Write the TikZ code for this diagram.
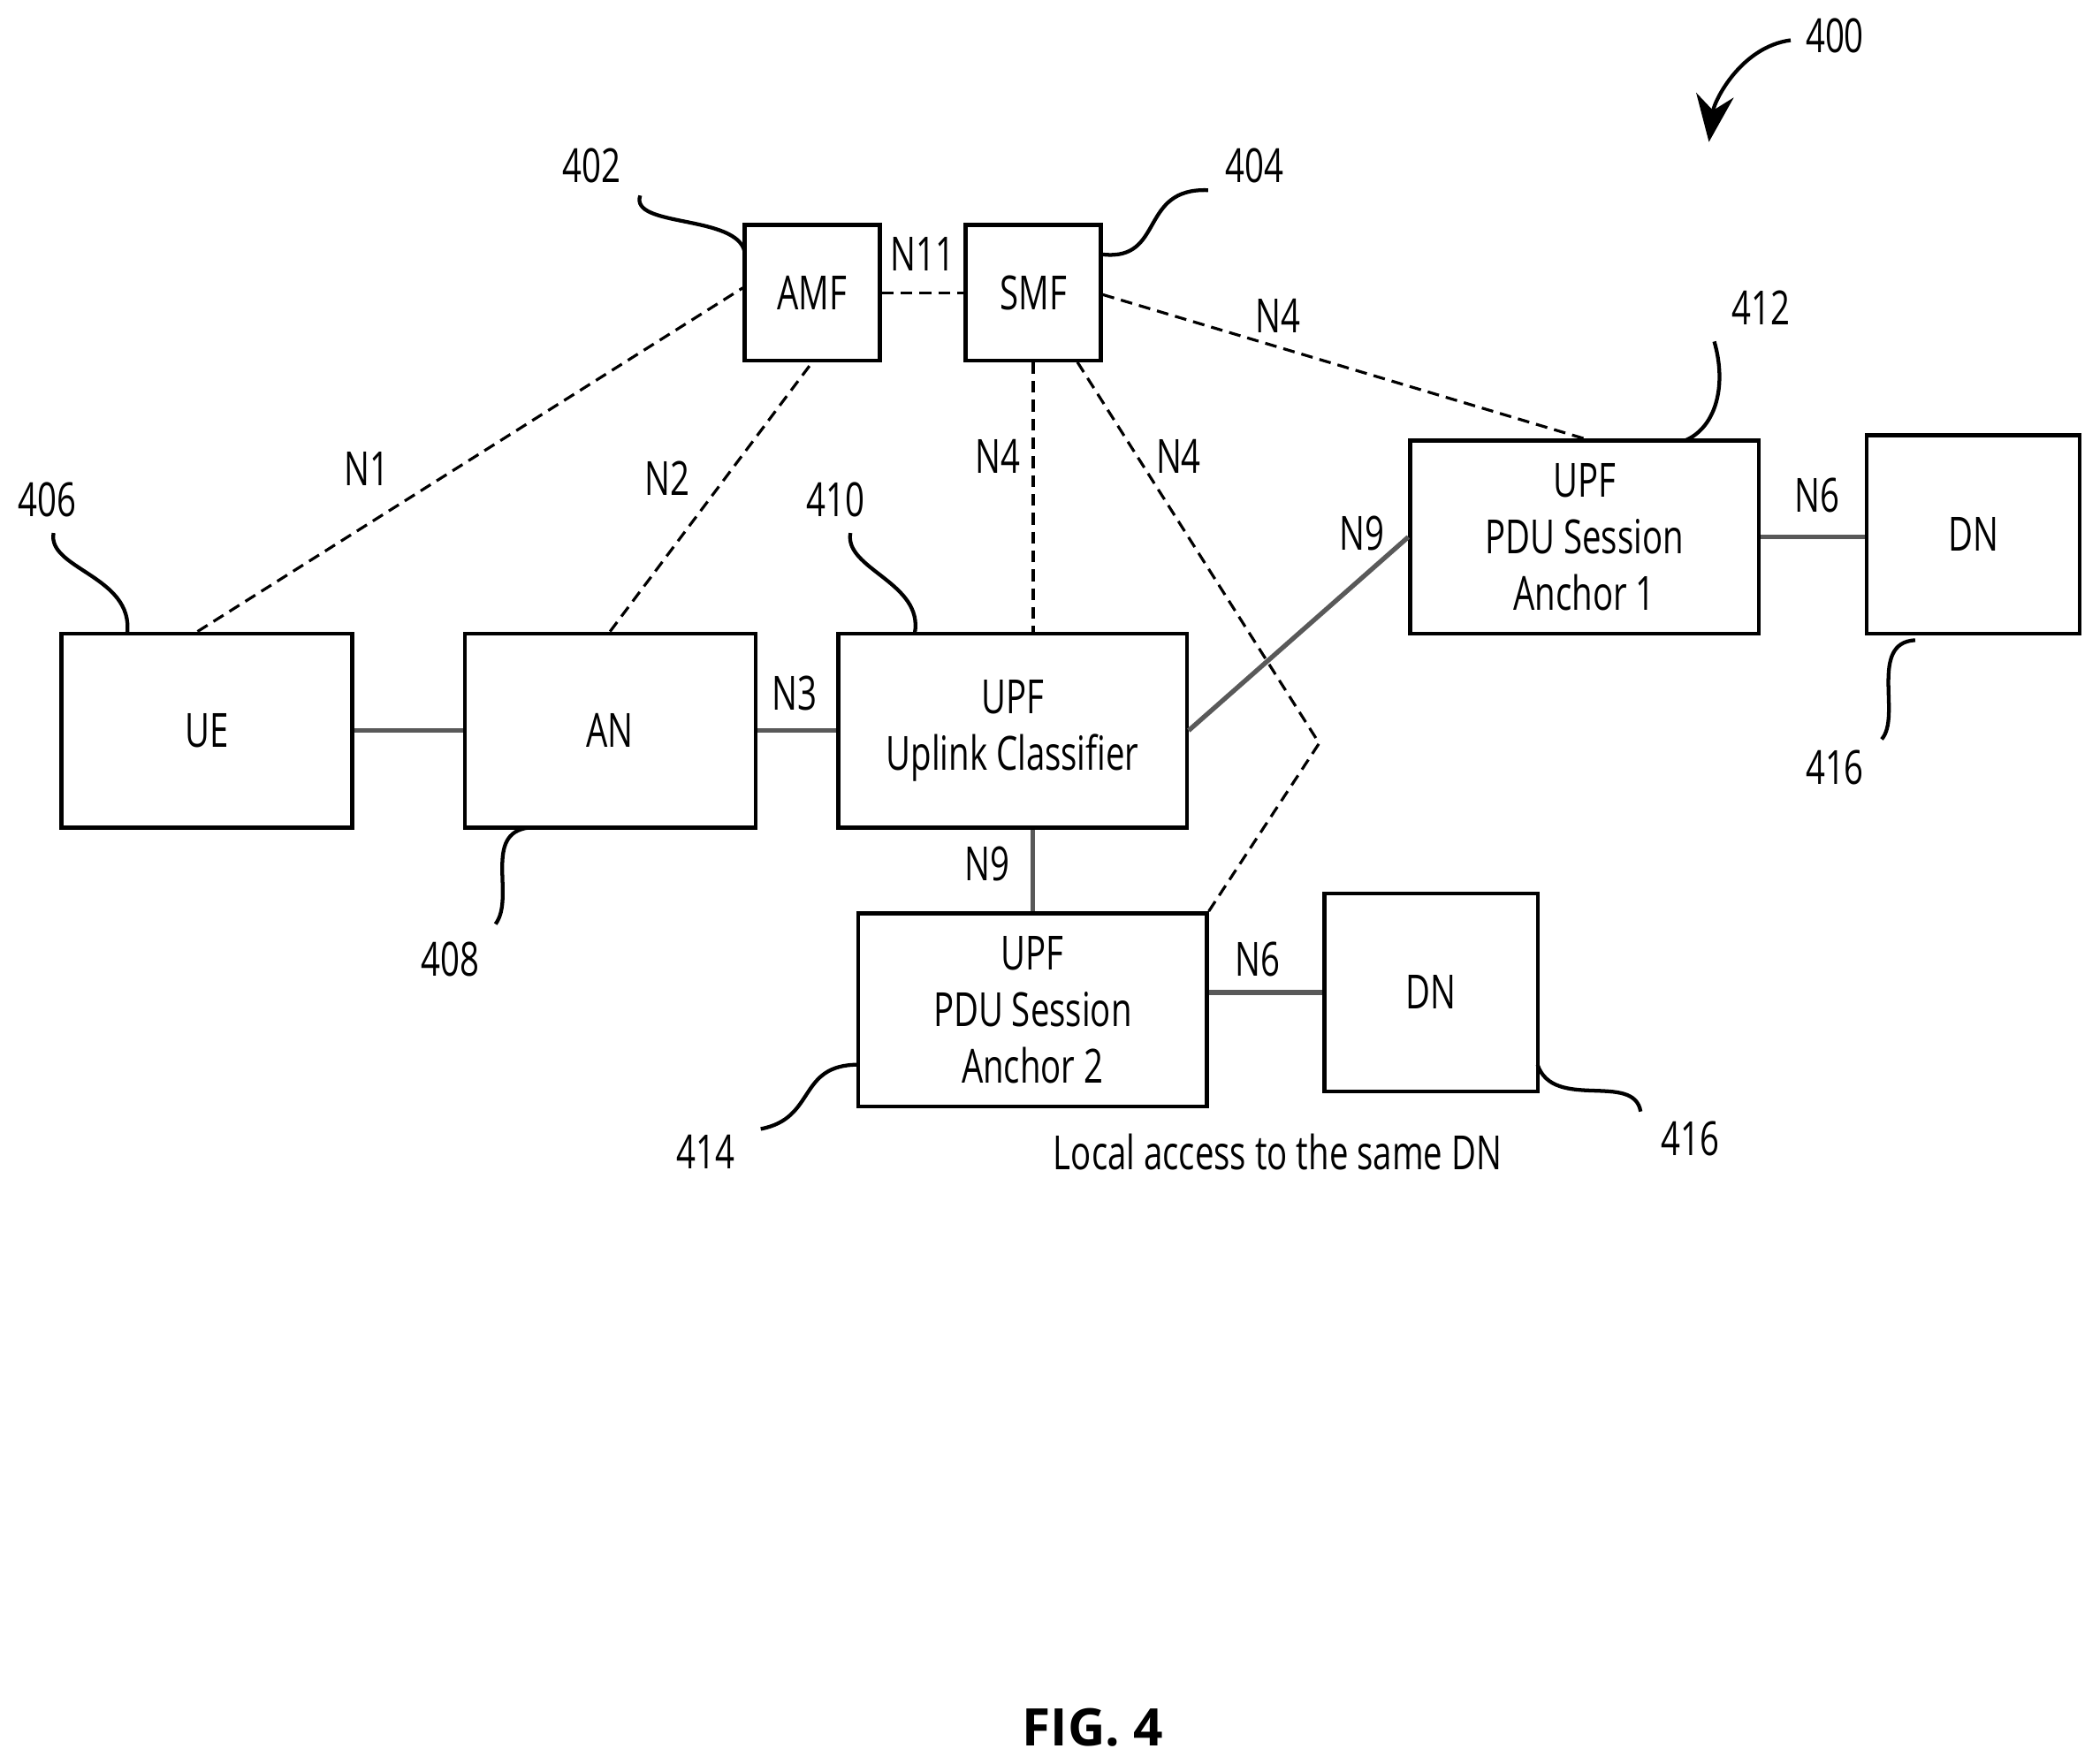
\documentclass[tikz,border=0pt]{standalone}
\usepackage{fontspec}
\setmainfont{Open Sans}[FakeStretch=0.72]
\newfontfamily\figfont{Open Sans}
\usetikzlibrary{arrows.meta}

\tikzset{
  box/.style={rectangle, draw, line width=0.8pt, align=center, inner sep=0pt},
  ctrl/.style={dashed, dash pattern=on 2.5pt off 1.5pt, line width=0.6pt},
  data/.style={line width=1pt, gray!70!black},
  lead/.style={line width=0.8pt},
  lbl/.style={inner sep=1pt}
}

\begin{document}
\begin{tikzpicture}[x=0.01cm, y=-0.01cm, font=\fontsize{10}{12}\selectfont]
  \useasboundingbox (0,0) rectangle (1568,1317);

  % network functions
  \node (amf) [box, minimum width=1.01cm, minimum height=1.01cm] at (606.5,218.5) {AMF};
  \node (smf) [box, minimum width=1.01cm, minimum height=1.01cm] at (771.5,218.5) {SMF};
  \node (ue) [box, minimum width=2.17cm, minimum height=1.45cm] at (154.5,545.5) {UE};
  \node (an) [box, minimum width=2.17cm, minimum height=1.45cm] at (455.5,545.5) {AN};
  \node (ulcl) [box, minimum width=2.6cm, minimum height=1.45cm] at (756,545.5) {UPF\\Uplink Classifier};
  \node (psa1) [box, minimum width=2.6cm, minimum height=1.44cm] at (1183,401) {UPF\\PDU Session\\Anchor 1};
  \node (dn1) [box, minimum width=1.59cm, minimum height=1.48cm] at (1473.5,399) {DN};
  \node (psa2) [box, minimum width=2.6cm, minimum height=1.44cm] at (771,754) {UPF\\PDU Session\\Anchor 2};
  \node (dn2) [box, minimum width=1.59cm, minimum height=1.48cm] at (1068.5,741) {DN};

  % control plane
  \draw[ctrl] (ue.north) ++(-7,0) -- (amf.west |- 0,215);
  \draw[ctrl] (an.north) -- (amf.south);
  \draw[ctrl] (amf) -- (smf);
  \draw[ctrl] (smf.east |- 0,220) -- (psa1.north);
  \draw[ctrl] (smf.south) -- (ulcl.north -| smf.south);
  \coordinate (bend) at (985,555);
  \draw[ctrl] (smf.south) ++(33,0) -- (bend) -- (psa2.north east) ++(-3,0);

  % user plane
  \draw[data] (ue) -- (an);
  \draw[data] (an) -- (ulcl);
  \draw[data] (ulcl.east) -- (psa1.west);
  \draw[data] (ulcl.south -| psa2.north) -- (psa2.north);
  \draw[data] (psa1) -- (dn1.west |- psa1);
  \draw[data] (psa2.east |- dn2) -- (dn2);

  % interface labels
  \node[lbl] (n1) at (274,350) {N1};
  \node[lbl] (n2) at (498,357) {N2};
  \node[lbl] (n11) at (689,190) {N11};
  \node[lbl] (n4a) at (954,236) {N4};
  \node[lbl] (n4b) at (745,341) {N4};
  \node[lbl] (n4c) at (880,341) {N4};
  \node[lbl] (n3) at (593,518) {N3};
  \node[lbl] (n9a) at (1017,398) {N9};
  \node[lbl] (n9b) at (737,645) {N9};
  \node[lbl] (n6a) at (1357,370) {N6};
  \node[lbl] (n6b) at (939,716) {N6};

  % reference numerals
  \node[lbl] (r400) at (1370,27) {400};
  \node[lbl] (r402) at (442,124) {402};
  \node[lbl] (r404) at (937,124) {404};
  \node[lbl] (r406) at (35,373) {406};
  \node[lbl] (r408) at (336,716) {408};
  \node[lbl] (r410) at (624,373) {410};
  \node[lbl] (r412) at (1315,230) {412};
  \node[lbl] (r414) at (527,860) {414};
  \node[lbl] (r416a) at (1370,573) {416};
  \node[lbl] (r416b) at (1262,850) {416};

  \draw[lead] (478,146) .. controls (470,170) and (550,160) .. (556,188);
  \draw[lead] (smf.east |- 0,190) .. controls (870,195) and (850,140) .. (902,142);
  \draw[lead] (40,398) .. controls (35,425) and (100,430) .. (95,473);
  \draw[lead] (635,398) .. controls (630,425) and (690,435) .. (683,473);
  \draw[lead] (1280,255) .. controls (1290,290) and (1280,320) .. (1258,329);
  \draw[lead] (395,618) .. controls (360,622) and (385,670) .. (370,690);
  \draw[lead] (1430,478) .. controls (1395,480) and (1420,535) .. (1405,552);
  \draw[lead] (568,843) .. controls (610,835) and (595,795) .. (641,795);
  \draw[lead] (1148,795) .. controls (1160,830) and (1220,800) .. (1225,830);
  \draw[lead, -{Stealth[length=10pt, width=8pt]}] (1337,30) .. controls (1300,35) and (1280,75) .. (1276,106);

  % captions
  \node[lbl] (local) at (954,860) {Local access to the same DN};
  \node[lbl, font=\figfont\fontsize{11}{13}\selectfont\bfseries] (fig) at (816,1290) {FIG. 4};
\end{tikzpicture}
\end{document}
